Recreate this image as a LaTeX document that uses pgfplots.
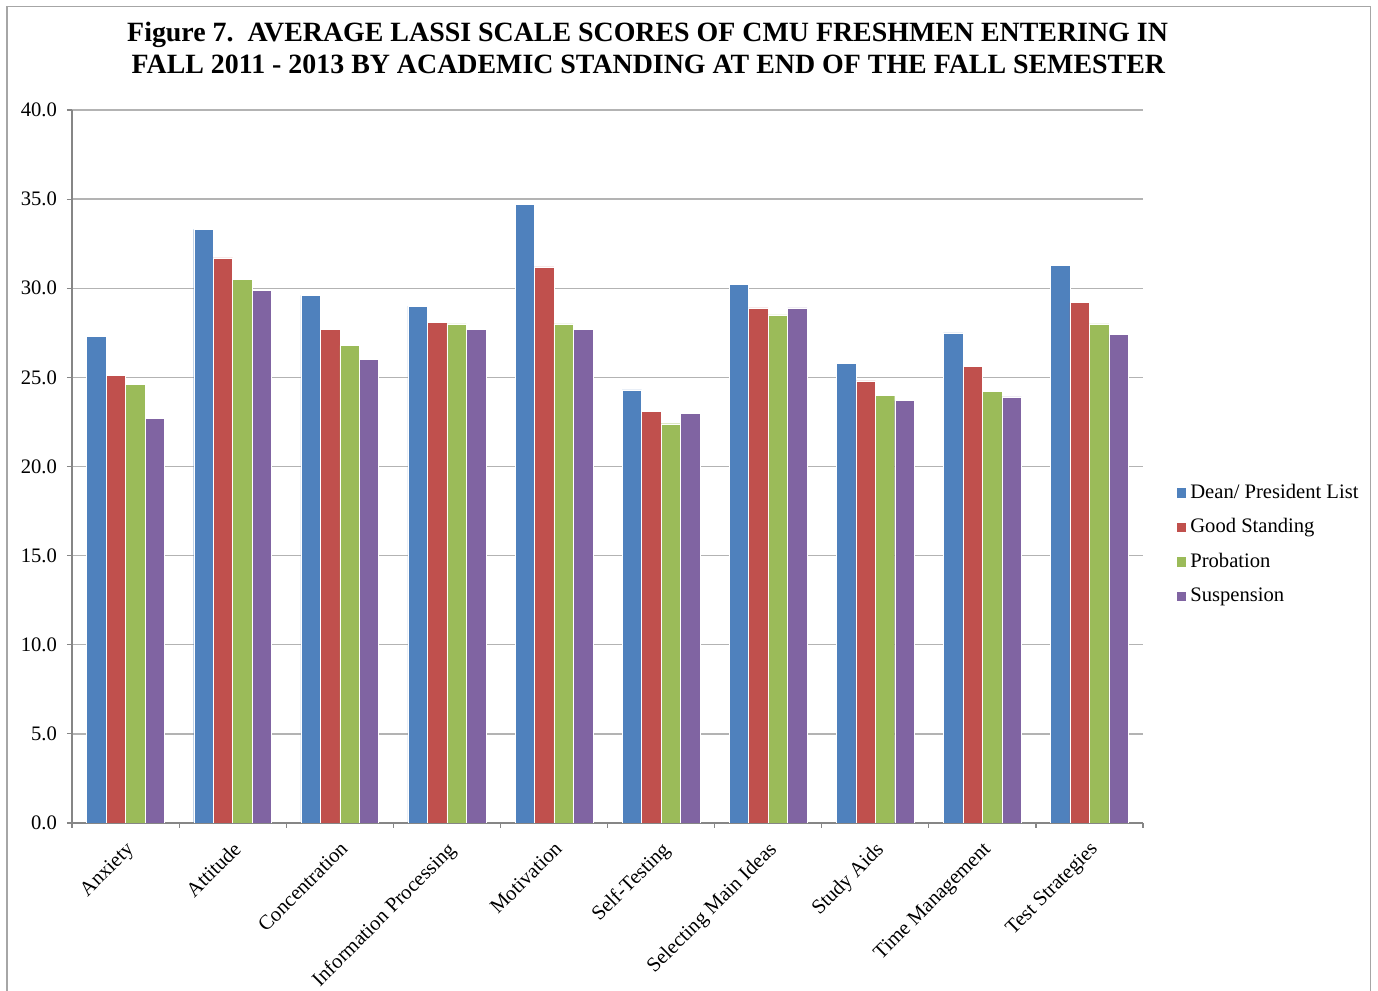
\documentclass[border=0pt]{standalone}
\usepackage{pgfplots}
\pgfplotsset{compat=1.18}
\usepackage{fontspec}
\setmainfont{Liberation Serif}

\definecolor{cBlue}{HTML}{4F81BD}
\definecolor{cRed}{HTML}{C0504D}
\definecolor{cGreen}{HTML}{9BBB59}
\definecolor{cPurple}{HTML}{8064A2}
\definecolor{axisgray}{HTML}{868686}
\definecolor{gridgray}{HTML}{B3B3B3}
\definecolor{framegray}{HTML}{A6A6A6}

\begin{document}
\begin{tikzpicture}
% page size: 689pt x 495.5pt
\path[use as bounding box] (0,0) rectangle (689pt,495.5pt);
\draw[framegray, line width=0.8pt] (3.4pt,0) -- (3.4pt,492.2pt) -- (685.3pt,492.2pt) -- (685.3pt,0);

\node[anchor=base, font=\bfseries\fontsize{13.95}{16}\selectfont] at (323.8pt,474.5pt)
  {Figure 7.\ \ AVERAGE LASSI SCALE SCORES OF CMU FRESHMEN ENTERING IN};
\node[anchor=base, font=\bfseries\fontsize{13.95}{16}\selectfont] at (324.2pt,458.5pt)
  {FALL 2011 - 2013 BY ACADEMIC STANDING AT END OF THE FALL SEMESTER};

\begin{axis}[
  at={(36pt,84pt)}, anchor=south west,
  scale only axis, width=535.5pt, height=356.5pt,
  ybar=0pt, bar width=0.1818,
  xmin=-0.5, xmax=9.5, ymin=0, ymax=40,
  ytick={0,5,...,40},
  yticklabel style={xshift=-1.5pt, /pgf/number format/.cd, fixed, fixed zerofill, precision=1, assume math mode=true},
  xtick={0,...,9},
  xticklabels={Anxiety, Attitude, Concentration, Information Processing, Motivation,
    Self-Testing, Selecting Main Ideas, Study Aids, Time Management, Test Strategies},
  minor xtick={-0.5,0.5,...,9.5},
  major x tick style={draw=none},
  xticklabel style={rotate=45, anchor=north east, inner sep=1pt, yshift=-3pt, xshift=-3.5pt},
  tick align=outside, tick pos=left,
  major tick length=2.5pt, minor tick length=2.5pt,
  tick style={axisgray, line width=0.6pt},
  ticklabel style={font=\fontsize{10.3}{12}\selectfont},
  axis x line*=bottom, axis y line*=left,
  axis line style={axisgray, line width=0.8pt, -},
  ymajorgrids, grid style={gridgray, line width=0.7pt},
  legend style={at={(axis description cs:1.03,0.391)}, anchor=west, draw=none,
    font=\fontsize{10.3}{12}\selectfont, row sep=4.6pt, inner sep=0pt,
    /tikz/every even column/.append style={column sep=0pt}},
  legend cell align=left,
  legend image code/.code={\fill[#1] (0pt,-2.6pt) rectangle (5.2pt,2.6pt);},
  every axis plot/.append style={draw=white, line width=0.2pt},
]
\addplot[fill=cBlue, bar shift=-0.2727] coordinates
  {(0,27.3) (1,33.3) (2,29.6) (3,29.0) (4,34.7) (5,24.3) (6,30.2) (7,25.8) (8,27.5) (9,31.3)};
\addplot[fill=cRed, bar shift=-0.0909] coordinates
  {(0,25.1) (1,31.7) (2,27.7) (3,28.1) (4,31.2) (5,23.1) (6,28.9) (7,24.8) (8,25.6) (9,29.2)};
\addplot[fill=cGreen, bar shift=0.0909] coordinates
  {(0,24.6) (1,30.5) (2,26.8) (3,28.0) (4,28.0) (5,22.4) (6,28.5) (7,24.0) (8,24.2) (9,28.0)};
\addplot[fill=cPurple, bar shift=0.2727] coordinates
  {(0,22.7) (1,29.9) (2,26.0) (3,27.7) (4,27.7) (5,23.0) (6,28.9) (7,23.7) (8,23.9) (9,27.4)};
\legend{Dean/ President List, Good Standing, Probation, Suspension}
\end{axis}
\end{tikzpicture}
\end{document}
